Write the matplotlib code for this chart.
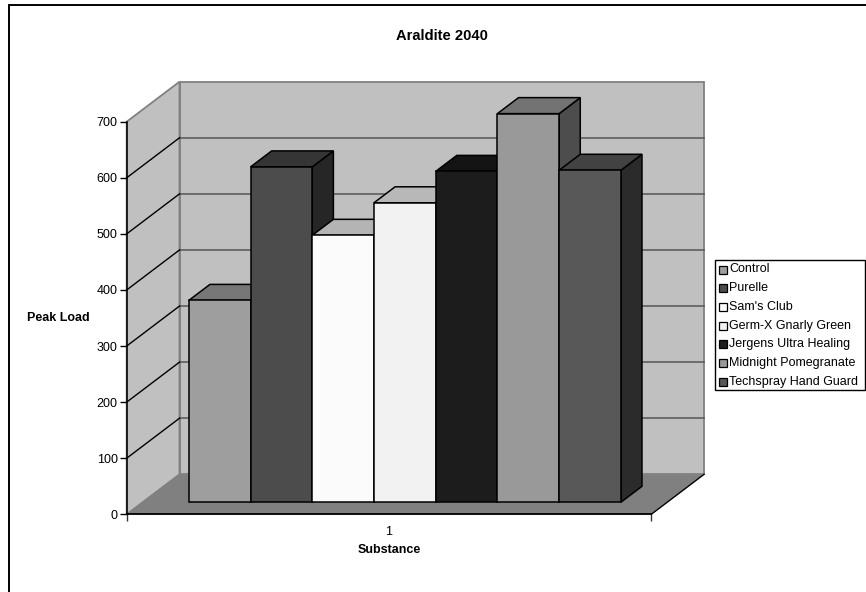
import matplotlib
matplotlib.use("Agg")
import matplotlib.pyplot as plt
from matplotlib.patches import Polygon, Rectangle

plt.rcParams['font.family'] = ['Liberation Sans', 'DejaVu Sans']

substances = ["Control", "Purelle", "Sam's Club", "Germ-X Gnarly Green",
              "Jergens Ultra Healing", "Midnight Pomegranate", "Techspray Hand Guard"]
peak_load = [360, 598, 476, 534, 590, 693, 592]
y_ticks = [0, 100, 200, 300, 400, 500, 600, 700]

front_colors = ['#9e9e9e', '#4c4c4c', '#fbfbfb', '#f2f2f2', '#1c1c1c', '#999999', '#585858']
top_colors = ['#777777', '#353535', '#b4b4b4', '#b8b8b8', '#141414', '#737373', '#424242']
side_colors = ['#4f4f4f', '#262626', '#7d7d7d', '#7a7a7a', '#0e0e0e', '#4d4d4d', '#2b2b2b']

W, H = 866, 592
fig = plt.figure(figsize=(W / 100, H / 100), dpi=100, facecolor='white')

# axes sit on the front plane of the fake 3d box
left, right, top, bottom = 126.7, 651.3, 121.7, 514.3
ax = fig.add_axes([left / W, 1 - bottom / H, (right - left) / W, (bottom - top) / H])
ax.set_xlim(0, 1)
ax.set_ylim(0, 700)
ax.patch.set_visible(False)

# full depth of the box, in data units
dx = 52.8 / (right - left)
dy = 40 / ((bottom - top) / 700)


def proj(x, v, z):
    return (x + z * dx, v + z * dy)


def face(pts, color, ec='none', lw=0, z=1):
    ax.add_patch(Polygon(pts, closed=True, facecolor=color, edgecolor=ec, linewidth=lw,
                         clip_on=False, zorder=z, joinstyle='miter'))


# walls and floor
face([proj(0, 0, 1), proj(1, 0, 1), proj(1, 700, 1), proj(0, 700, 1)], '#c0c0c0', '#808080', 1.3)
face([proj(0, 0, 0), proj(0, 0, 1), proj(0, 700, 1), proj(0, 700, 0)], '#c0c0c0', '#808080', 1.3)
face([proj(0, 0, 0), proj(1, 0, 0), proj(1, 0, 1), proj(0, 0, 1)], '#808080')

for t in y_ticks[1:-1]:
    ax.plot(*zip(proj(0, t, 1), proj(1, t, 1)), color='#555555', lw=1.1, clip_on=False, zorder=1.5)
    ax.plot(*zip(proj(0, t, 0), proj(0, t, 1)), color='#000000', lw=1.0, clip_on=False, zorder=1.5)
ax.plot(*zip(proj(1, 0, 0), proj(1, 0, 1)), color='black', lw=1.0, clip_on=False, zorder=1.5)

# bars: gap of 0.75 bar each side, depth 0.3-0.7 of the box
n = len(peak_load)
bar_w = 1 / (n + 1.5)
z0, z1 = 0.3, 0.7
for i, v in enumerate(peak_load):
    x0 = bar_w * (0.75 + i)
    x1 = x0 + bar_w
    base = 2 + i
    face([proj(x1, 0, z0), proj(x1, 0, z1), proj(x1, v, z1), proj(x1, v, z0)],
         side_colors[i], 'black', 1.1, base)
    face([proj(x0, v, z0), proj(x1, v, z0), proj(x1, v, z1), proj(x0, v, z1)],
         top_colors[i], 'black', 1.1, base)
    face([proj(x0, 0, z0), proj(x1, 0, z0), proj(x1, v, z0), proj(x0, v, z0)],
         front_colors[i], 'black', 1.1, base + 0.5)

ax.set_yticks(y_ticks)
ax.set_xticks([0, 1])
ax.set_xticklabels([])
ax.tick_params(axis='x', which='major', length=5, width=1, color='#333333')
ax.tick_params(axis='y', length=5, width=1, labelsize=9, pad=1.5)
for s in ['top', 'right']:
    ax.spines[s].set_visible(False)
ax.spines['left'].set_linewidth(1.1)
ax.spines['bottom'].set_linewidth(1.3)
ax.spines['left'].set_zorder(20)
ax.spines['bottom'].set_zorder(20)

fig.text(389 / W, 1 - 532 / H, '1', ha='center', va='center', fontsize=9)
fig.text(442 / W, 1 - 35.7 / H, 'Araldite 2040', ha='center', va='center', fontsize=10.6, fontweight='bold')
fig.text(389 / W, 1 - 550 / H, 'Substance', ha='center', va='center', fontsize=9, fontweight='bold')
fig.text(58.5 / W, 1 - 318 / H, 'Peak Load', ha='center', va='center', fontsize=9, fontweight='bold')

# legend box drawn by hand in figure pixels to get the tight excel look
lx0, lx1, ly0, ly1 = 714.5, 865, 259.5, 390
fig.add_artist(Rectangle((lx0 / W, 1 - ly1 / H), (lx1 - lx0) / W, (ly1 - ly0) / H,
                         transform=fig.transFigure, facecolor='white', edgecolor='black', lw=1))
for i, name in enumerate(substances):
    yc = 269.5 + i * 18.67
    fig.add_artist(Rectangle((718.5 / W, 1 - (yc + 4) / H), 8 / W, 8 / H,
                             transform=fig.transFigure, facecolor=front_colors[i],
                             edgecolor='black', lw=0.9))
    fig.text(729.3 / W, 1 - yc / H, name, ha='left', va='center', fontsize=9)

# outer chart border, only top and left show in the crop
fig.add_artist(Rectangle((9 / W, -0.02), 1, 1.02 - 5 / H, transform=fig.transFigure,
                         facecolor='none', edgecolor='black', lw=1.4))

fig.savefig('out.png', dpi=100)
